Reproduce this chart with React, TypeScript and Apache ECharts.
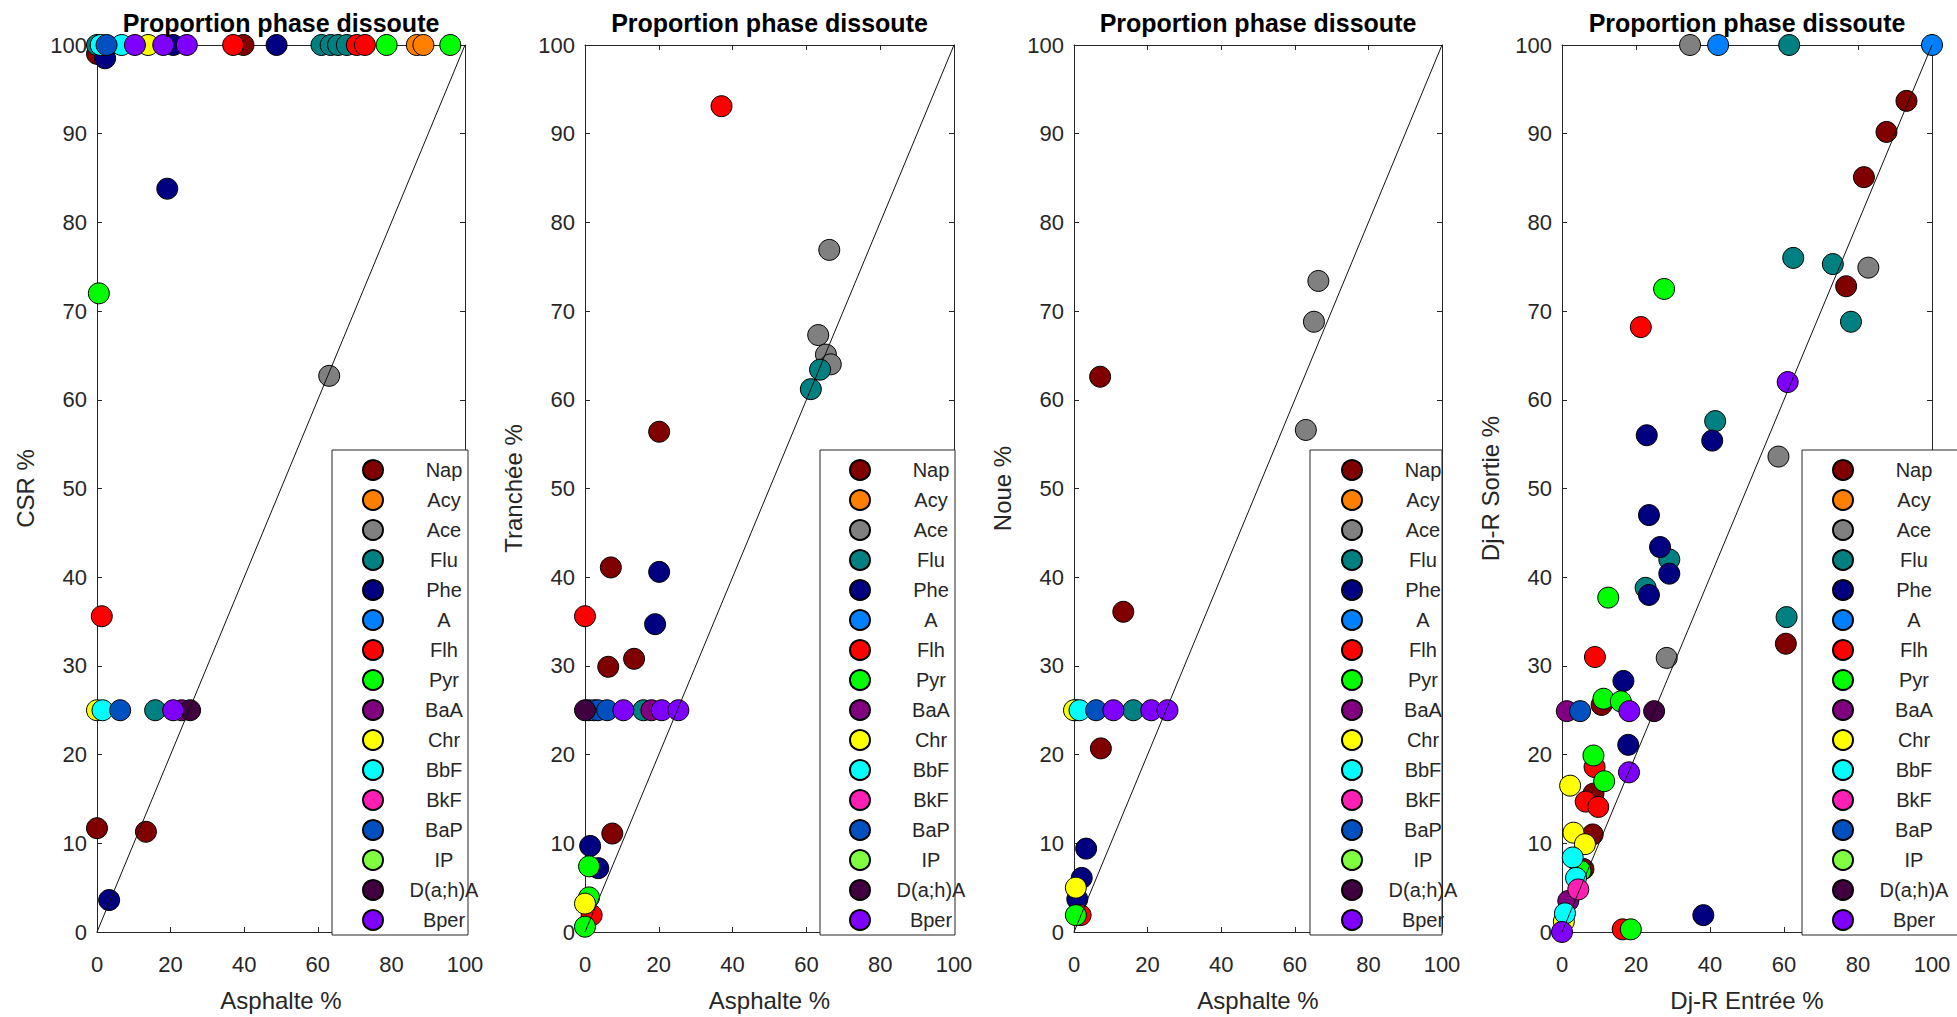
import React, { useEffect, useRef } from "react";
import * as echarts from "echarts";

// ---------- data ----------
const compounds = ["Nap", "Acy", "Ace", "Flu", "Phe", "A", "Flh", "Pyr", "BaA", "Chr", "BbF", "BkF", "BaP", "IP", "D(a;h)A", "Bper"];
const compoundColors = ["#800000", "#ff8000", "#808080", "#008080", "#000080", "#0080ff", "#ff0000", "#00ff00", "#800080", "#ffff00", "#00ffff", "#ff1fb4", "#0050c0", "#80ff40", "#400040", "#8000ff"];

const panelTitles = ["Proportion phase dissoute", "Proportion phase dissoute", "Proportion phase dissoute", "Proportion phase dissoute"];
const xAxisNames = ["Asphalte %", "Asphalte %", "Asphalte %", "Dj-R Entrée %"];
const yAxisNames = ["CSR %", "Tranchée %", "Noue %", "Dj-R Sortie %"];
const xTickStep = 20;
const yTickStep = 10;
const axisMin = 0;
const axisMax = 100;
const diagonal = [[0, 0], [100, 100]];

// [compound, x, y]
const csrPoints: [string, number, number][] = [
  ["Nap", 0, 99], ["Nap", 39.8, 100], ["Nap", 0, 11.7], ["Nap", 13.3, 11.3],
  ["Acy", 86.9, 100], ["Acy", 88.7, 100],
  ["Ace", 63.1, 62.7],
  ["Flu", 0, 100], ["Flu", 61, 100], ["Flu", 63.5, 100], ["Flu", 65.5, 100], ["Flu", 67.9, 100], ["Flu", 15.8, 25],
  ["Phe", 2.2, 98.5], ["Phe", 20.7, 100], ["Phe", 48.8, 100], ["Phe", 19.1, 83.8], ["Phe", 3.3, 3.6],
  ["Flh", 37, 100], ["Flh", 70.6, 100], ["Flh", 72.8, 100], ["Flh", 1.3, 35.6],
  ["Pyr", 78.7, 100], ["Pyr", 96, 100], ["Pyr", 0.5, 72],
  ["BaA", 23, 25],
  ["Chr", 13.9, 100], ["Chr", 0, 25],
  ["BbF", 1, 100], ["BbF", 6.7, 100], ["BbF", 1.5, 25],
  ["BaP", 2.6, 100], ["BaP", 6.3, 25],
  ["D(a;h)A", 25.3, 25],
  ["Bper", 10.3, 100], ["Bper", 18, 100], ["Bper", 24.4, 100], ["Bper", 20.7, 25],
];

const trancheePoints: [string, number, number][] = [
  ["Nap", 20.1, 56.4], ["Nap", 7, 41.1], ["Nap", 6.3, 29.9], ["Nap", 13.3, 30.8], ["Nap", 7.4, 11.1],
  ["Ace", 66.2, 76.9], ["Ace", 63.2, 67.3], ["Ace", 65.3, 65.1], ["Ace", 66.6, 64.0],
  ["Flu", 63.7, 63.4], ["Flu", 61.2, 61.2], ["Flu", 1, 25], ["Flu", 15.8, 25],
  ["Phe", 20.1, 40.6], ["Phe", 19, 34.7], ["Phe", 1.4, 9.7], ["Phe", 3.6, 7.2],
  ["A", 2.5, 25],
  ["Flh", 37, 93.1], ["Flh", 0, 35.6], ["Flh", 1.8, 1.9],
  ["Pyr", 1.1, 3.9], ["Pyr", 1.1, 7.4], ["Pyr", 0, 0.6],
  ["BaA", 18, 25],
  ["Chr", 0, 3.2],
  ["BaP", 3.5, 25], ["BaP", 6, 25],
  ["D(a;h)A", 0, 25],
  ["Bper", 10.4, 25], ["Bper", 20.8, 25], ["Bper", 25.3, 25],
];

const nouePoints: [string, number, number][] = [
  ["Nap", 7.1, 62.6], ["Nap", 13.4, 36.1], ["Nap", 7.3, 20.7],
  ["Ace", 66.4, 73.4], ["Ace", 65.2, 68.8], ["Ace", 63, 56.6],
  ["Flu", 0.5, 25], ["Flu", 16.1, 25],
  ["Phe", 3.3, 9.4], ["Phe", 2.1, 6.1], ["Phe", 0.9, 3.7],
  ["Flh", 1.8, 1.9],
  ["Pyr", 0.5, 1.9],
  ["Chr", 0, 25], ["Chr", 0.5, 5.0],
  ["BbF", 1.5, 25],
  ["BaP", 6, 25],
  ["Bper", 10.7, 25], ["Bper", 21, 25], ["Bper", 25.4, 25],
];

const djrPoints: [string, number, number][] = [
  ["Nap", 93.1, 93.7], ["Nap", 87.7, 90.2], ["Nap", 81.6, 85.1], ["Nap", 76.8, 72.8], ["Nap", 60.5, 32.5],
  ["Nap", 10.7, 25.6], ["Nap", 8.5, 15.6], ["Nap", 8.3, 11.0], ["Nap", 5.8, 7.1],
  ["Ace", 34.6, 100], ["Ace", 82.8, 74.9], ["Ace", 58.5, 53.6], ["Ace", 28.3, 30.9],
  ["Flu", 61.4, 100], ["Flu", 62.5, 76.0], ["Flu", 73.2, 75.3], ["Flu", 78.1, 68.8], ["Flu", 41.4, 57.6],
  ["Flu", 29.0, 42.0], ["Flu", 22.6, 38.8], ["Flu", 60.7, 35.5],
  ["Phe", 22.9, 56.0], ["Phe", 40.6, 55.4], ["Phe", 23.5, 47.0], ["Phe", 26.5, 43.4], ["Phe", 29.0, 40.4],
  ["Phe", 23.5, 38.0], ["Phe", 16.6, 28.3], ["Phe", 17.9, 21.1], ["Phe", 38.2, 1.9],
  ["A", 42.2, 100], ["A", 100, 100],
  ["Flh", 21.3, 68.2], ["Flh", 8.9, 31.0], ["Flh", 8.8, 18.6], ["Flh", 6.4, 14.7], ["Flh", 9.8, 14.1], ["Flh", 16.4, 0.3],
  ["Pyr", 27.6, 72.5], ["Pyr", 12.5, 37.7], ["Pyr", 11.2, 26.3], ["Pyr", 15.9, 26.0], ["Pyr", 8.5, 19.9],
  ["Pyr", 11.4, 17.0], ["Pyr", 5.0, 6.9], ["Pyr", 18.6, 0.3],
  ["BaA", 1.3, 24.9], ["BaA", 1.7, 3.5],
  ["Chr", 2.2, 16.5], ["Chr", 3.1, 11.2], ["Chr", 6.2, 9.9], ["Chr", 0.5, 1.2],
  ["BbF", 2.9, 8.4], ["BbF", 3.8, 6.1], ["BbF", 0.8, 2.1],
  ["BkF", 4.4, 4.8],
  ["BaP", 4.9, 24.9],
  ["D(a;h)A", 24.9, 24.9],
  ["Bper", 61.0, 62.0], ["Bper", 18.2, 24.9], ["Bper", 18.1, 18.0], ["Bper", 0, 0],
];

const panelPoints = [csrPoints, trancheePoints, nouePoints, djrPoints];

// ---------- layout ----------
const W = 1957;
const H = 1017;
const gridLefts = [97, 585, 1074, 1562];
const gridWidths = [368, 369, 368, 370];
const gridTop = 45;
const gridHeight = 893;
const legendLefts = [362, 849, 1341, 1832];
const boxLefts = [332, 820, 1310, 1802];
const boxWidths = [136, 135, 132, 170];
const boxTop = 450;
const boxHeight = 485;

const FONT = "'Liberation Sans', Arial, Helvetica, sans-serif";
const AXIS_COLOR = "#262626";

function buildOption() {
  const grid: any[] = [];
  const xAxis: any[] = [];
  const yAxis: any[] = [];
  const title: any[] = [];
  const legend: any[] = [];
  const graphic: any[] = [];
  const series: any[] = [];

  const lineStyle = { color: AXIS_COLOR, width: 1 };

  for (let i = 0; i < 4; i++) {
    grid.push({ left: gridLefts[i], top: gridTop, width: gridWidths[i], height: gridHeight, containLabel: false });

    const baseX = {
      gridIndex: i, type: "value", min: axisMin, max: axisMax, interval: xTickStep,
      axisLine: { show: true, onZero: false, lineStyle },
      axisTick: { show: true, inside: true, length: 5, lineStyle },
      splitLine: { show: false },
    };
    xAxis.push({
      ...baseX, position: "bottom",
      axisLabel: { fontSize: 22, color: AXIS_COLOR, fontFamily: FONT, margin: 21 },
      name: xAxisNames[i], nameLocation: "middle", nameGap: 56,
      nameTextStyle: { fontSize: 24, color: AXIS_COLOR, fontFamily: FONT },
    });
    xAxis.push({ ...baseX, position: "top", axisLabel: { show: false } });

    const baseY = {
      gridIndex: i, type: "value", min: axisMin, max: axisMax, interval: yTickStep,
      axisLine: { show: true, onZero: false, lineStyle },
      axisTick: { show: true, inside: true, length: 5, lineStyle },
      splitLine: { show: false },
    };
    yAxis.push({
      ...baseY, position: "left",
      axisLabel: { fontSize: 22, color: AXIS_COLOR, fontFamily: FONT, margin: 10 },
      name: yAxisNames[i], nameLocation: "middle", nameGap: 60, nameRotate: 90,
      nameTextStyle: { fontSize: 24, color: AXIS_COLOR, fontFamily: FONT },
    });
    yAxis.push({ ...baseY, position: "right", axisLabel: { show: false } });

    title.push({
      text: panelTitles[i],
      left: gridLefts[i] + gridWidths[i] / 2,
      top: 10,
      textAlign: "center",
      padding: 0,
      textStyle: { fontSize: 25, fontWeight: "bold", color: "#000", fontFamily: FONT },
    });

    graphic.push({
      type: "rect", z: 4,
      shape: { x: boxLefts[i], y: boxTop, width: boxWidths[i], height: boxHeight },
      style: { fill: "#ffffff", stroke: AXIS_COLOR, lineWidth: 1 },
    });

    legend.push({
      orient: "vertical",
      left: legendLefts[i],
      top: boxTop + 9,
      padding: 0,
      itemWidth: 20,
      itemHeight: 20,
      itemGap: 8,
      icon: "circle",
      selectedMode: false,
      z: 6,
      data: compounds,
      formatter: "{c|{name}}",
      textStyle: {
        color: AXIS_COLOR, fontSize: 20, fontFamily: FONT, lineHeight: 20,
        rich: { c: { width: 112, height: 20, lineHeight: 20, align: "center", fontSize: 20, color: AXIS_COLOR, fontFamily: FONT } },
      },
    });

    const pts = panelPoints[i];
    compounds.forEach((c, k) => {
      const data = pts.filter((p) => p[0] === c).map((p) => [p[1], p[2]]);
      series.push({
        type: "scatter",
        name: c,
        xAxisIndex: 2 * i,
        yAxisIndex: 2 * i,
        data,
        symbol: "circle",
        symbolSize: 21,
        clip: false,
        z: 2,
        itemStyle: { color: compoundColors[k], borderColor: "#000", borderWidth: 1, opacity: 1 },
      });
    });
    series.push({
      type: "line",
      xAxisIndex: 2 * i,
      yAxisIndex: 2 * i,
      data: diagonal,
      symbol: "none",
      silent: true,
      z: 3,
      lineStyle: { color: "#111", width: 1 },
    });
  }

  return {
    animation: false,
    backgroundColor: "#ffffff",
    textStyle: { fontFamily: FONT },
    title,
    grid,
    xAxis,
    yAxis,
    legend,
    graphic,
    series,
  };
}

export default function App() {
  const ref = useRef<HTMLDivElement>(null);
  useEffect(() => {
    document.body.style.margin = "0";
    if (!ref.current) return;
    const chart = echarts.init(ref.current, null, { renderer: "svg" });
    chart.setOption(buildOption());
    return () => chart.dispose();
  }, []);
  return <div ref={ref} style={{ width: W, height: H }} />;
}
